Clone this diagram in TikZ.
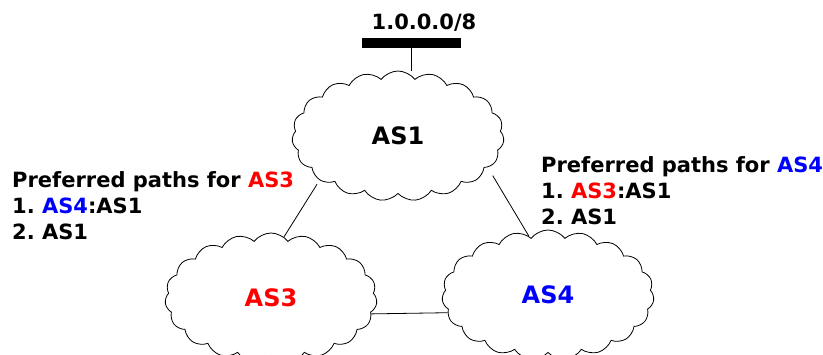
\documentclass[tikz,border=0pt]{standalone}
\usepackage{fontspec}
\setmainfont{DejaVu Sans}
\usetikzlibrary{shapes.symbols}
\frenchspacing

\begin{document}
\begin{tikzpicture}[x=1pt, y=-1pt,
  as/.style={cloud, draw, cloud puffs=19, cloud puff arc=105, cloud ignores aspect, minimum width=212pt, minimum height=130pt, inner sep=0pt, font=\fontsize{24}{28}\selectfont\bfseries, line width=0.8pt},
  note/.style={align=left, inner sep=0pt, anchor=north west, font=\fontsize{21}{26}\selectfont\bfseries},
  link/.style={line width=0.8pt}
]
  \useasboundingbox (0,0) rectangle (823,354);

  % Prefix and its bar
  \node[fill, minimum width=99pt, minimum height=10pt, inner sep=0pt] (bar) at (411,43) {};
  \node[anchor=base, inner sep=0pt, font=\fontsize{21}{26}\selectfont\bfseries] (prefix) at (424,29) {1.0.0.0/8};

  % ASes
  \node[as] (as1) at (398,136) {AS1};
  \node[as, text=red] (as3) at (271,298) {AS3};
  \node[as, text=blue] (as4) at (548,295) {AS4};

  % Preferences
  \node[note] (pref3) at (12,171) {Preferred paths for \textcolor{red}{AS3}\\1. \textcolor{blue}{AS4}:AS1\\2. AS1};
  \node[note] (pref4) at (541,156) {Preferred paths for \textcolor{blue}{AS4}\\1. \textcolor{red}{AS3}:AS1\\2. AS1};

  % Links
  \draw[link] (bar.south) -- (bar.south |- as1.north);
  \draw[link] ([shift={(-7,2)}]as1.212) -- (as3.78);
  \draw[link] ([shift={(9,5)}]as1.338) -- (as4.108);
  \draw[link] (as3.351) -- (as4.190);
\end{tikzpicture}
\end{document}
